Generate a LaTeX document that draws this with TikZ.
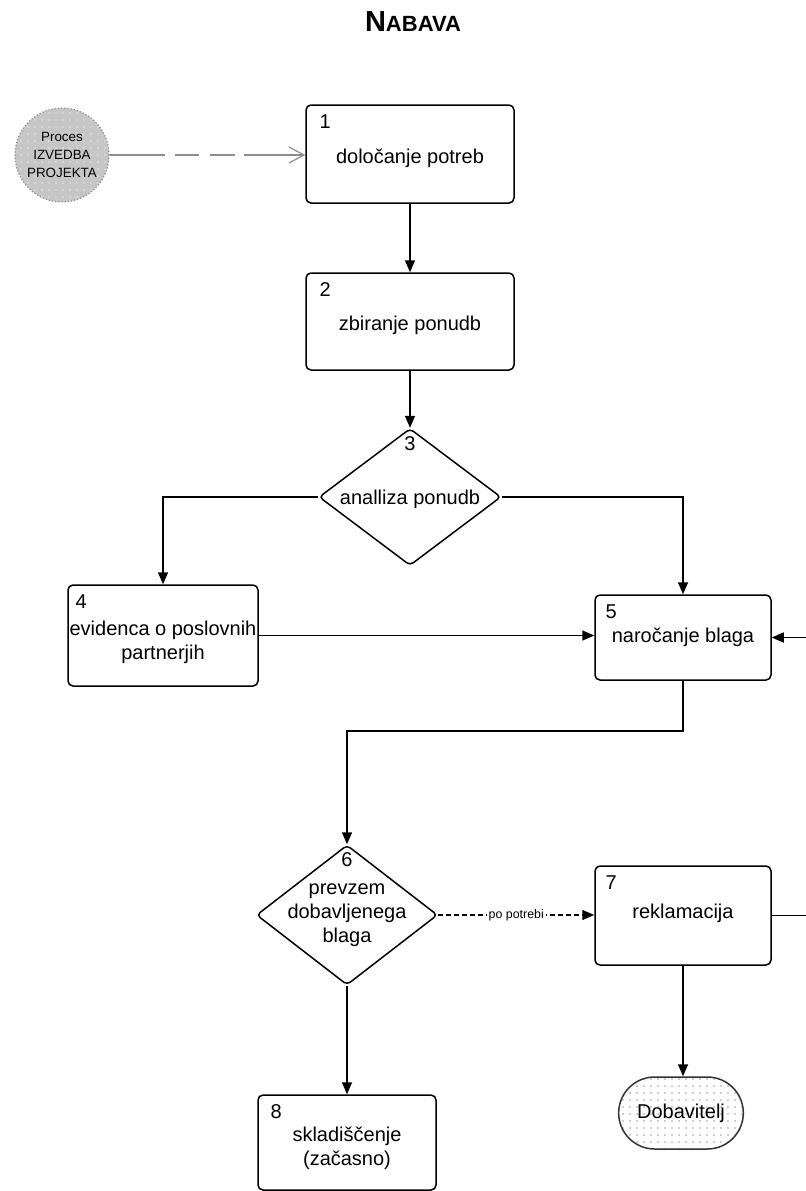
\documentclass[tikz,border=0pt]{standalone}
\usepackage{fontspec}
\setmainfont{Liberation Sans}
\usepackage{xcolor}
\definecolor{ink}{HTML}{000000}
\definecolor{mist}{HTML}{C6C6C6}
\definecolor{rim}{HTML}{8C8C8C}
\usetikzlibrary{arrows.meta, positioning, shapes.geometric, shapes.misc, patterns.meta}
\tikzset{
  >={Triangle[length=6pt, width=5pt]},
  korak/.style={draw=ink, rounded corners=2.5pt, line width=0.75pt, inner sep=0pt},
  odl/.style={diamond, draw=ink, rounded corners=2pt, line width=0.75pt, inner sep=0pt},
  txt/.style={align=center, inner sep=1pt, font=\fontsize{10}{11.9}\selectfont},
  num/.style={font=\fontsize{10}{11}\selectfont, inner sep=1pt},
  tok/.style={->, line width=0.75pt, color=ink},
}

\begin{document}
\begin{tikzpicture}[x=0.5pt, y=-0.5pt,
    proc/.style={circle, draw=rim, densely dotted, line width=0.6pt, minimum size=47pt, inner sep=0pt,
      preaction={fill=mist}, pattern={Dots[distance=3.5pt, radius=0.45pt]}, pattern color=white!55!mist,
      align=center, font=\fontsize{6.7}{9}\selectfont},
    zun/.style={rounded rectangle, draw=ink!80, line width=0.75pt, minimum width=69pt, minimum height=36pt,
      preaction={fill=white}, pattern={Dots[distance=3.5pt, radius=0.4pt]}, pattern color=gray!75,
      font=\fontsize{10}{11}\selectfont},
    siv/.style={-{Straight Barb[length=7.5pt, width=8pt]}, line width=0.6pt, color=rim,
      dash pattern=on 27.5pt off 5pt on 12pt off 5.5pt on 12.5pt off 4.5pt on 40pt},
    lbl/.style={fill=white, inner sep=1pt, font=\fontsize{6.2}{7}\selectfont}]
  \useasboundingbox (0,0) rectangle (805,1191);
  % naslov
  \node (naslov) at (413,22) {\bfseries\fontsize{14.5}{14.5}\selectfont N\fontsize{11}{11}\selectfont ABAVA};
  % vhodni proces
  \node[proc] (proc) at (62,155) {Proces\\IZVEDBA\\PROJEKTA};
  % koraki procesa (okvir, nato besedilo)
  \node[korak, minimum width=104pt, minimum height=49pt] (n1) at (410,154) {};
  \node[korak, minimum width=104pt, minimum height=48.5pt] (n2) at (410,321.5) {};
  \node[odl, minimum width=91pt, minimum height=68.5pt] (n3) at (410,497) {};
  \node[korak, minimum width=95pt, minimum height=50.5pt] (n4) at (163,635.5) {};
  \node[korak, minimum width=88pt, minimum height=42.5pt] (n5) at (683,637.5) {};
  \node[odl, minimum width=90.5pt, minimum height=70pt] (n6) at (347,915) {};
  \node[korak, minimum width=88pt, minimum height=49.5pt] (n7) at (683,915.5) {};
  \node[korak, minimum width=89pt, minimum height=47.5pt] (n8) at (347,1142.5) {};
  \node[zun] (dob) at (681,1113) {Dobavitelj};
  \node[txt] (n1txt) at ([yshift=-2pt]n1.center) {določanje potreb};
  \node[txt] (n2txt) at ([yshift=-2pt]n2.center) {zbiranje ponudb};
  \node[txt] (n3txt) at ([yshift=-1pt]n3.center) {analliza ponudb};
  \node[txt] (n4txt) at ([yshift=-3.5pt]n4.center) {evidenca o poslovnih\\partnerjih};
  \node[txt] (n5txt) at (n5.center) {naročanje blaga};
  \node[txt] (n6txt) at (n6.center) {prevzem\\dobavljenega\\blaga};
  \node[txt] (n7txt) at ([yshift=1pt]n7.center) {reklamacija};
  \node[txt] (n8txt) at ([yshift=-3pt]n8.center) {skladiščenje\\(začasno)};
  % zaporedne številke
  \foreach \i/\dx in {1/6, 2/6, 4/3, 5/4.5, 7/4.5, 8/5.5}
    \node[num, anchor=north west] (t\i) at ([xshift=\dx pt, yshift=-4pt]n\i.north west) {\i};
  \node[num, below=3pt of n3.north] (t3) {3};
  \node[num, below=3pt of n6.north] (t6) {6};
  % povezave
  \draw[siv] (proc) -- (proc -| n1.west);
  \draw[tok] (n1) -- (n2);
  \draw[tok] (n2) -- (n3);
  \draw[tok] (n3.west) -| (n4.north);
  \draw[tok] (n3.east) -| (n5.north);
  \draw[tok] (n4.east) -- (n4.east -| n5.west);
  \draw[tok] (n5.south) -- ++(0,50) -| (n6.north);
  \draw[tok, dash pattern=on 2.5pt off 1.5pt] (n6.east) -- node[lbl] (pp) {po potrebi} (n6.east -| n7.west);
  \draw[tok] (n6) -- (n8);
  \draw[tok] (n7.south) -- (n7.south |- dob.north);
  % povratna zanka ob desnem robu
  \coordinate (desno) at (830,0);
  \draw[tok] (n7.east) -- (n7.east -| desno) |- (n5.east);
\end{tikzpicture}
\end{document}
